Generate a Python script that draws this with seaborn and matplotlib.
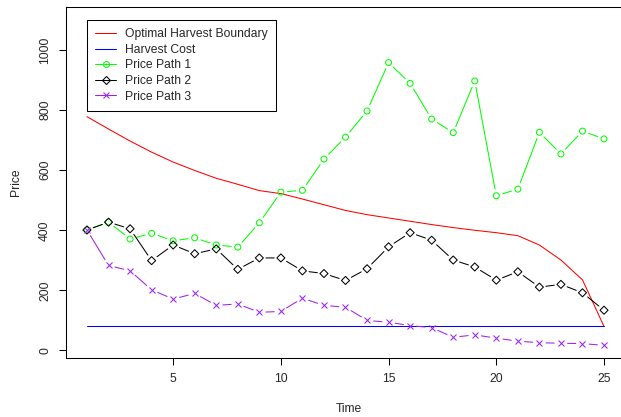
import numpy as np
import pandas as pd
import matplotlib
matplotlib.use("Agg")
import matplotlib.pyplot as plt
import seaborn as sns
from matplotlib.lines import Line2D

# -------------------
# Data
time = list(range(1, 26))
boundary = [778, 737, 697, 660, 627, 599, 573, 553, 532, 522,
            504, 485, 466, 452, 441, 430, 419, 409, 400, 392,
            382, 351, 301, 235, 80]
harvest_cost = [80] * 25
path1 = [401, 427, 371, 390, 365, 375, 351, 344, 425, 527,
         533, 637, 710, 797, 958, 889, 770, 725, 897, 515,
         537, 726, 654, 730, 704]
path2 = [401, 427, 405, 299, 351, 322, 338, 270, 308, 308,
         265, 256, 233, 272, 345, 392, 367, 301, 278, 234,
         262, 211, 220, 192, 134]
path3 = [401, 283, 265, 202, 171, 190, 150, 155, 127, 130,
         174, 150, 144, 100, 94, 83, 76, 44, 52, 41,
         31, 26, 24, 23, 17]

df = pd.DataFrame({"Time": time, "boundary": boundary, "cost": harvest_cost,
                   "p1": path1, "p2": path2, "p3": path3})

# -------------------
# Plot
sns.set_style("white")
plt.rcParams["font.family"] = ["Liberation Sans", "DejaVu Sans"]
fs = 8.7

fig = plt.figure(figsize=(6.21, 4.17), dpi=100)
ax = fig.add_axes([66.3 / 621, 59 / 417, (632 - 66.3) / 621, (409.7 - 59) / 417])
ax.set_xlim(0.04, 25.96 + 7.3 / 21.54)
ax.set_ylim(-25, 1142)

lw = 0.75
sns.lineplot(data=df, x="Time", y="boundary", color="#FF0000", lw=lw, ax=ax)
sns.lineplot(data=df, x="Time", y="cost", color="#0000FF", lw=lw, ax=ax)

paths = [("p1", "#00FF00", "o", 4.3), ("p2", "black", "D", 4.1), ("p3", "#A020F0", "x", 4.3)]
for col, color, mk, ms in paths:
    # R type="b": line segments with gaps around the points
    xs, ys = df["Time"].values, df[col].values
    for i in range(len(xs) - 1):
        ax.annotate("", xy=(xs[i + 1], ys[i + 1]), xytext=(xs[i], ys[i]),
                    arrowprops=dict(arrowstyle="-", color=color, lw=lw,
                                    shrinkA=4.8, shrinkB=4.8))
    if mk == "x":
        sns.scatterplot(data=df, x="Time", y=col, marker="x", color=color,
                        s=ms ** 2, linewidth=lw, ax=ax, zorder=3)
    else:
        sns.scatterplot(data=df, x="Time", y=col, marker=mk, facecolor="none",
                        edgecolor=color, s=ms ** 2, linewidth=lw, ax=ax, zorder=3)

# axes in R base style (right side of the box falls outside the image)
for sp in ax.spines.values():
    sp.set_visible(True)
    sp.set_color("black")
    sp.set_linewidth(0.75)
ax.spines["right"].set_visible(False)
ax.set_xticks([5, 10, 15, 20, 25])
ax.set_yticks([0, 200, 400, 600, 800, 1000])
ax.tick_params(axis="both", direction="out", length=5, width=0.75, color="black",
               labelsize=fs, pad=6, bottom=True, left=True)
for lab in ax.get_yticklabels():
    lab.set_rotation(90)
    lab.set_va("center")
ax.set_xlabel("Time", fontsize=fs, labelpad=13)
ax.set_ylabel("Price", fontsize=fs, labelpad=12)

handles = [
    Line2D([], [], color="#FF0000", lw=lw),
    Line2D([], [], color="#0000FF", lw=lw),
    Line2D([], [], color="#00FF00", lw=lw, marker="o", mfc="none", ms=4.3, mew=lw),
    Line2D([], [], color="black", lw=lw, marker="D", mfc="none", ms=4.1, mew=lw),
    Line2D([], [], color="#A020F0", lw=lw, marker="x", ms=4.3, mew=lw),
]
labels = ["Optimal Harvest Boundary", "Harvest Cost", "Price Path 1",
          "Price Path 2", "Price Path 3"]
leg = ax.legend(handles, labels, loc="upper left",
                bbox_to_anchor=(87 / 621, 1 - 20 / 417), bbox_transform=fig.transFigure,
                fontsize=fs, frameon=True, fancybox=False, framealpha=1,
                edgecolor="black", borderaxespad=0, borderpad=0.68,
                handlelength=1.75, handletextpad=0.75, labelspacing=0.3)
leg.get_frame().set_linewidth(0.75)

fig.savefig("out.png", dpi=100)
